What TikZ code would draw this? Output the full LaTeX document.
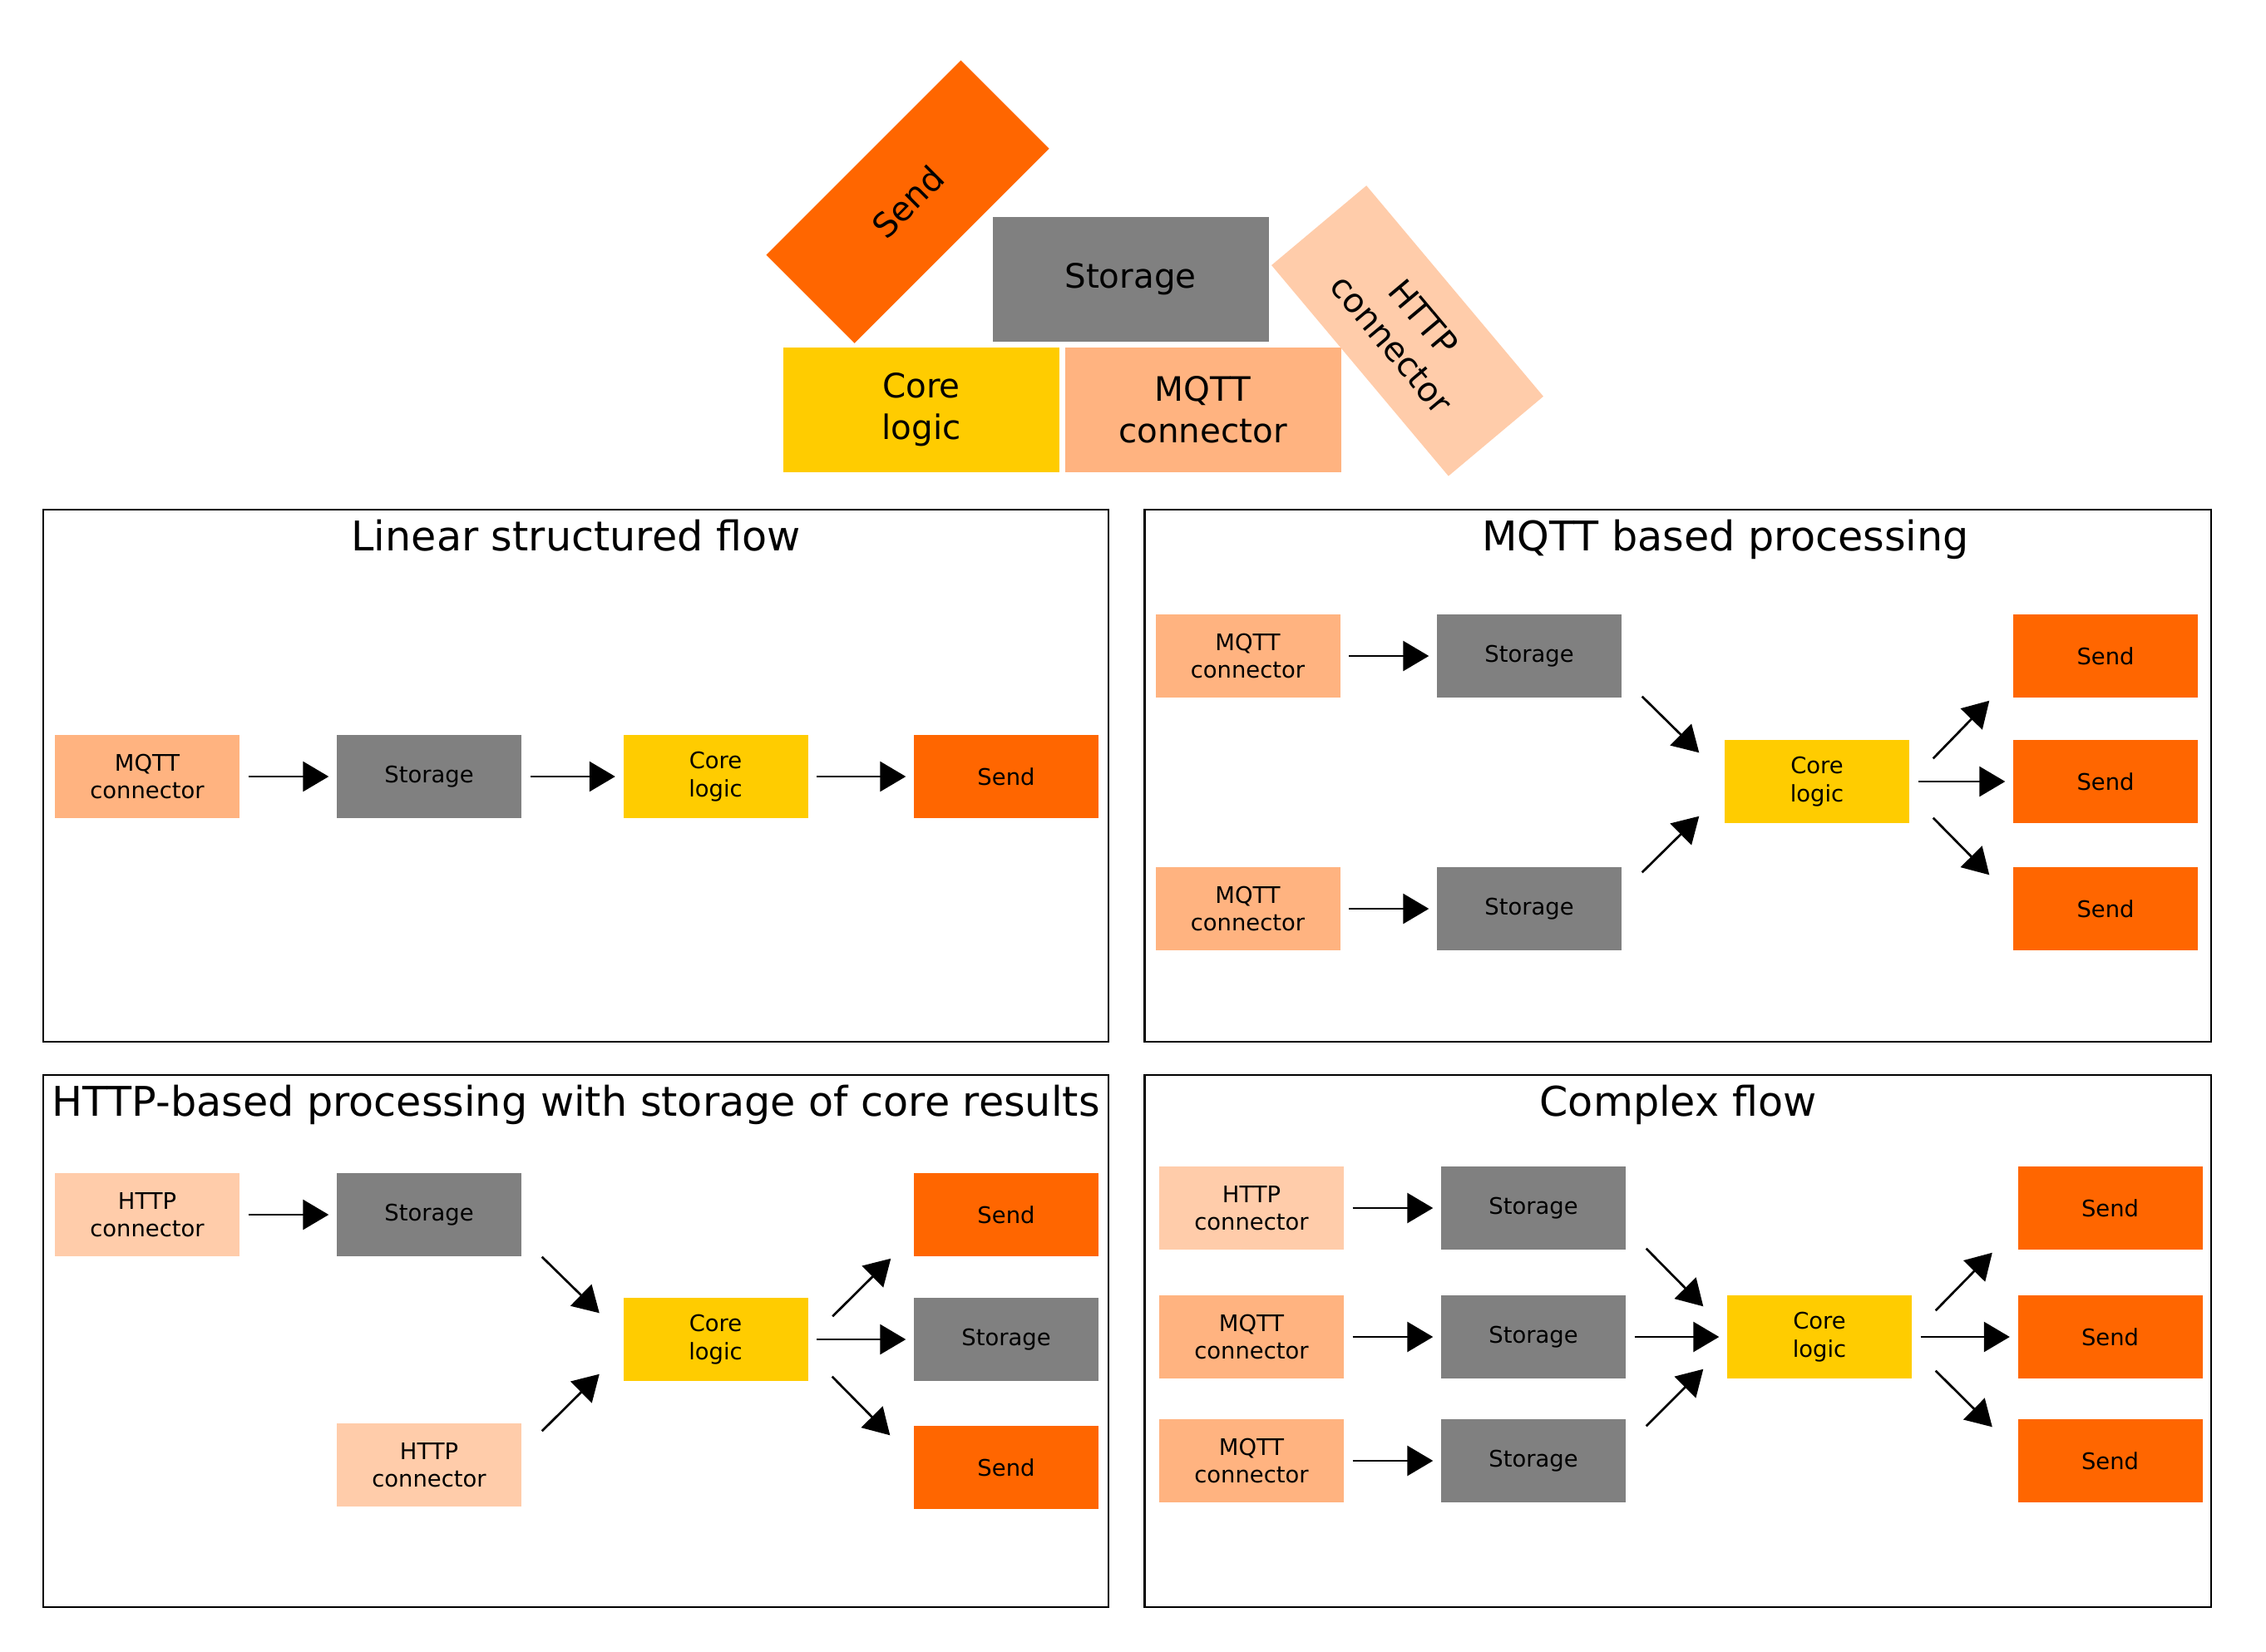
\documentclass[tikz,border=0pt]{standalone}
\usepackage{fontspec}
\setmainfont{DejaVu Sans}
\usetikzlibrary{arrows.meta,calc}

\definecolor{mqttc}{HTML}{FFB380}
\definecolor{httpc}{HTML}{FFCCAA}
\definecolor{storc}{HTML}{808080}
\definecolor{corec}{HTML}{FFCC00}
\definecolor{sendc}{HTML}{FF6600}

\begin{document}
\begin{tikzpicture}[
  blk/.style={inner sep=0pt, align=center, text=black},
  small/.style={blk, minimum width=2.22cm, minimum height=1.0cm,
                font=\fontsize{7.8}{9.5}\selectfont},
  big/.style={blk, minimum width=3.32cm, minimum height=1.5cm,
              font=\fontsize{11.5}{14.2}\selectfont},
  mqtt/.style={fill=mqttc},
  http/.style={fill=httpc},
  stor/.style={fill=storc},
  core/.style={fill=corec},
  send/.style={fill=sendc},
  panel/.style={draw=black, line width=0.6pt},
  ptitle/.style={anchor=base, inner sep=0pt, font=\fontsize{14}{16}\selectfont},
  tip/.style={-{Triangle[length=0.31cm,width=0.36cm]}, line width=0.77pt},
  flow/.style={tip, shorten <=0.1cm, shorten >=0.09cm},
]
\useasboundingbox (0,0) rectangle (27.25,-19.86);

% ---------- building blocks ----------
\node[big, stor] (tstor) at (13.595,-3.36) {Storage};
\node[big, core] (tcore) at (11.08,-4.93) {Core\\logic};
\node[big, mqtt] (tmqtt) at (14.465,-4.93) {MQTT\\connector};
\node[big, send, rotate=45, minimum width=3.31cm] (tsend) at (10.915,-2.427) {Send};
\node[big, http, rotate=-50, minimum width=3.31cm, minimum height=1.49cm] (thttp) at (16.925,-3.979) {HTTP\\connector};

% ---------- panel frames and titles ----------
\draw[panel] (0.52,-6.13) rectangle (13.33,-12.53);
\draw[panel] (13.765,-6.13) rectangle (26.59,-12.53);
\draw[panel] (0.52,-12.93) rectangle (13.33,-19.33);
\draw[panel] (13.765,-12.93) rectangle (26.59,-19.33);

\node[ptitle] (t1) at (6.925,-6.62) {Linear structured flow};
\node[ptitle] (t2) at (20.75,-6.62) {MQTT based processing};
\node[ptitle] (t3) at (6.925,-13.42) {HTTP-based processing with storage of core results};
\node[ptitle] (t4) at (20.18,-13.42) {Complex flow};

% ---------- linear structured flow ----------
\node[small, mqtt] (a1) at (1.77,-9.34) {MQTT\\connector};
\node[small, stor] (a2) at (5.16,-9.34) {Storage};
\node[small, core] (a3) at (8.605,-9.34) {Core\\logic};
\node[small, send] (a4) at (12.10,-9.34) {Send};
\draw[flow] (a1) -- (a2);
\draw[flow] (a2) -- (a3);
\draw[flow] (a3) -- (a4);

% ---------- MQTT based processing ----------
\node[small, mqtt] (b1) at (15.005,-7.89) {MQTT\\connector};
\node[small, stor] (b2) at (18.39,-7.89) {Storage};
\node[small, mqtt] (b3) at (15.005,-10.93) {MQTT\\connector};
\node[small, stor] (b4) at (18.39,-10.93) {Storage};
\node[small, core] (b5) at (21.85,-9.40) {Core\\logic};
\node[small, send] (b6) at (25.32,-7.89) {Send};
\node[small, send] (b7) at (25.32,-9.40) {Send};
\node[small, send] (b8) at (25.32,-10.93) {Send};
\draw[flow] (b1) -- (b2);
\draw[flow] (b3) -- (b4);
\draw[tip] ($(b2.south east)+(0.24,0.02)$) -- ($(b5.north west)+(-0.30,-0.16)$);
\draw[tip] ($(b4.north east)+(0.24,-0.07)$) -- ($(b5.south west)+(-0.30,0.09)$);
\draw[tip] ($(b5.north east)+(0.28,-0.23)$) -- ($(b6.south west)+(-0.28,-0.03)$);
\draw[flow] (b5) -- (b7);
\draw[tip] ($(b5.south east)+(0.28,0.07)$) -- ($(b8.north west)+(-0.28,-0.10)$);

% ---------- HTTP-based processing ----------
\node[small, http] (c1) at (1.77,-14.61) {HTTP\\connector};
\node[small, stor] (c2) at (5.16,-14.61) {Storage};
\node[small, http] (c3) at (5.16,-17.62) {HTTP\\connector};
\node[small, core] (c4) at (8.605,-16.11) {Core\\logic};
\node[small, send] (c5) at (12.10,-14.61) {Send};
\node[small, stor] (c6) at (12.10,-16.11) {Storage};
\node[small, send] (c7) at (12.10,-17.65) {Send};
\draw[flow] (c1) -- (c2);
\draw[tip] ($(c2.south east)+(0.24,0)$) -- ($(c4.north west)+(-0.28,-0.19)$);
\draw[tip] ($(c3.north east)+(0.24,-0.10)$) -- ($(c4.south west)+(-0.28,0.09)$);
\draw[tip] ($(c4.north east)+(0.29,-0.23)$) -- ($(c5.south west)+(-0.27,-0.02)$);
\draw[flow] (c4) -- (c6);
\draw[tip] ($(c4.south east)+(0.285,0.06)$) -- ($(c7.north west)+(-0.28,-0.12)$);

% ---------- complex flow ----------
\node[small, http] (d1) at (15.05,-14.53) {HTTP\\connector};
\node[small, stor] (d2) at (18.44,-14.53) {Storage};
\node[small, mqtt] (d3) at (15.05,-16.08) {MQTT\\connector};
\node[small, stor] (d4) at (18.44,-16.08) {Storage};
\node[small, mqtt] (d5) at (15.05,-17.57) {MQTT\\connector};
\node[small, stor] (d6) at (18.44,-17.57) {Storage};
\node[small, core] (d7) at (21.88,-16.08) {Core\\logic};
\node[small, send] (d8) at (25.375,-14.53) {Send};
\node[small, send] (d9) at (25.375,-16.08) {Send};
\node[small, send] (d10) at (25.375,-17.57) {Send};
\draw[flow] (d1) -- (d2);
\draw[flow] (d3) -- (d4);
\draw[flow] (d5) -- (d6);
\draw[tip] ($(d2.south east)+(0.24,0.02)$) -- ($(d7.north west)+(-0.28,-0.14)$);
\draw[flow] (d4) -- (d7);
\draw[tip] ($(d6.north east)+(0.24,-0.09)$) -- ($(d7.south west)+(-0.28,0.12)$);
\draw[tip] ($(d7.north east)+(0.28,-0.19)$) -- ($(d8.south west)+(-0.30,-0.03)$);
\draw[flow] (d7) -- (d9);
\draw[tip] ($(d7.south east)+(0.28,0.10)$) -- ($(d10.north west)+(-0.30,-0.10)$);
\end{tikzpicture}
\end{document}
